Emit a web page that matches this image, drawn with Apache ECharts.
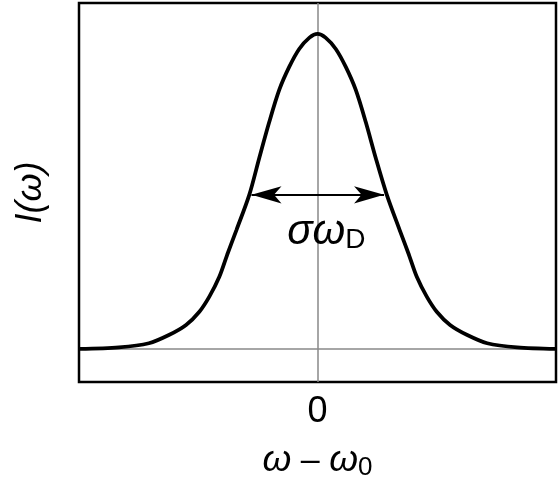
<!DOCTYPE html>
<html>
<head>
<meta charset="utf-8">
<script src="https://cdn.jsdelivr.net/npm/echarts@6/dist/echarts.min.js"></script>
<style>html,body{margin:0;padding:0;background:#fff;}#c{width:560px;height:483px;}</style>
</head>
<body>
<div id="c"></div>
<script>
// Curve samples: x in units of sigma, y normalised to the peak
const xValues = [-4.3, -3.58, -3.04, -2.68, -2.37, -2.13, -1.95, -1.77, -1.63, -1.46, -1.23, -1.05, -0.87, -0.69, -0.51, -0.33, -0.145, 0,
                 0.145, 0.33, 0.51, 0.69, 0.87, 1.05, 1.25, 1.48, 1.65, 1.79, 1.97, 2.15, 2.39, 2.7, 3.06, 3.6, 4.3];
const yValues = [0.0, 0.005, 0.018, 0.044, 0.076, 0.118, 0.166, 0.229, 0.298, 0.378, 0.489, 0.606, 0.72, 0.822, 0.895, 0.952, 0.988, 1.0,
                 0.988, 0.952, 0.895, 0.822, 0.72, 0.606, 0.489, 0.378, 0.298, 0.229, 0.166, 0.118, 0.076, 0.044, 0.018, 0.005, 0.0];
const xTickLabels = ['0'];
const arrowSpan = [-1.19, 1.2];
const arrowLevel = 0.489;

const chart = echarts.init(document.getElementById('c'));
const FONT = '"Liberation Sans", Arial, sans-serif';
chart.setOption({
  animation: false,
  grid: { left: 79, right: 4, top: 3, bottom: 101, outerBoundsMode: 'none', containLabel: false,
          show: true, borderColor: '#000', borderWidth: 2.5, backgroundColor: '#fff' },
  xAxis: {
    type: 'value', min: -4.3, max: 4.3, interval: 4.3,
    name: '{w|ω} – {w|ω}{s|0}', nameLocation: 'middle', nameGap: 59,
    nameTextStyle: { fontFamily: FONT, fontSize: 34, color: '#000',
      rich: { w: { fontStyle: 'italic', fontSize: 37, fontFamily: FONT, color: '#000' },
              s: { fontSize: 26, fontFamily: FONT, color: '#000', verticalAlign: 'bottom', padding: [14, 0, 0, 0] } } },
    axisLine: { show: false }, axisTick: { show: false }, splitLine: { show: false },
    axisLabel: { fontFamily: FONT, fontSize: 36, color: '#000', margin: 12,
      formatter: v => (Math.abs(v) < 1e-9 ? xTickLabels[0] : '') }
  },
  yAxis: {
    type: 'value', min: -0.105, max: 1.098,
    name: '{i|I}(ω)', nameLocation: 'middle', nameRotate: 90, nameGap: 30,
    nameTextStyle: { fontFamily: FONT, fontSize: 36, color: '#000', fontStyle: 'italic',
      rich: { i: { fontStyle: 'italic', fontSize: 36, fontFamily: FONT, color: '#000' } } },
    axisLine: { show: false }, axisTick: { show: false }, splitLine: { show: false }, axisLabel: { show: false }
  },
  series: [
    {
      type: 'line', data: xValues.map((x, i) => [x, yValues[i]]), smooth: 0.3, symbol: 'none',
      lineStyle: { color: '#000', width: 3.8 }, z: 5,
      markLine: {
        silent: true, symbol: 'none', label: { show: false },
        lineStyle: { color: '#888', width: 1.5, type: 'solid' },
        data: [{ xAxis: 0 }, { yAxis: 0 }]
      }
    },
    {
      type: 'line', data: [], z: 6,
      markLine: {
        silent: true, symbol: ['arrow', 'arrow'], symbolSize: [13, 30], label: { show: false },
        lineStyle: { color: '#000', width: 1.8, type: 'solid' },
        data: [[{ coord: [arrowSpan[0], arrowLevel] }, { coord: [arrowSpan[1], arrowLevel] }]]
      }
    }
  ]
});
const p = chart.convertToPixel({ gridIndex: 0 }, [0.16, 0.37]);
chart.setOption({
  graphic: [{
    type: 'text', x: p[0], y: p[1], z: 10,
    style: {
      text: '{g|σ}{g|ω}{s|D}', align: 'center', verticalAlign: 'middle',
      rich: {
        g: { fontFamily: FONT, fontSize: 42, fontStyle: 'italic', fill: '#000' },
        s: { fontFamily: FONT, fontSize: 28, fill: '#000', padding: [16, 0, 0, 0] }
      }
    }
  }]
});
</script>
</body>
</html>
